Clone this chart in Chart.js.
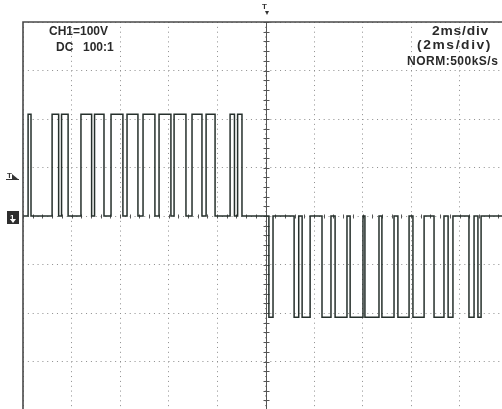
<!DOCTYPE html>
<html>
<head>
<meta charset="utf-8">
<script src="https://cdn.jsdelivr.net/npm/chart.js@4.4.1/dist/chart.umd.min.js"></script>
<style>
  html, body { margin: 0; padding: 0; width: 502px; height: 409px; overflow: hidden; background: #fff; }
  #wrap { position: relative; width: 502px; height: 409px; overflow: hidden; background: #fff; }
  #scope { position: absolute; left: 0; top: 0; }
  .lbl { position: absolute; font-family: "Liberation Sans", Arial, sans-serif; font-size: 12px;
         font-weight: bold; line-height: 12px; color: #2a2a2a; white-space: pre; transform-origin: 0 0; }
  .mk { position: absolute; font-family: "Liberation Sans", Arial, sans-serif; font-weight: bold;
        font-size: 8px; line-height: 8px; color: #333; }
</style>
</head>
<body>
<div id="wrap">
  <canvas id="scope" width="510" height="412"></canvas>
  <div class="lbl" id="chLbl" style="left:49px;top:25px"></div>
  <div class="lbl" id="cplLbl" style="left:56px;top:41px"></div>
  <div class="lbl" id="ratioLbl" style="left:83px;top:41px"></div>
  <div class="lbl" id="tbLbl" style="left:432px;top:25px;letter-spacing:0.7px;transform:scaleX(1.15)"></div>
  <div class="lbl" id="tb2Lbl" style="left:417px;top:39px;letter-spacing:1.4px;transform:scaleX(1.15)"></div>
  <div class="lbl" id="acqLbl" style="left:407px;top:55px;letter-spacing:0.5px"></div>
  <div class="mk" style="left:262px;top:3px">T</div>
  <div class="mk" style="left:7px;top:172px">T</div>
  <div class="mk" style="left:10px;top:214px;color:#fff">1</div>
</div>
<script>
// Scope settings
const timePerDiv = 2;      // ms / div
const voltPerDiv = 100;    // V / div
const timeDivs = 10;
const voltDivs = 8;
const triggerTime = 10;    // ms, trigger position (screen centre)
const triggerLevel = 80;   // V

// Readout texts
const channelText = "CH1=100V";
const couplingText = "DC";
const probeText = "100:1";
const timebaseText = "2ms/div";
const timebase2Text = "(2ms/div)";
const acquireText = "NORM:500kS/s";

// PWM output: positive half-cycle pulses (ms)
const posRise = [0.21, 1.20, 1.59, 2.39, 2.95, 3.63, 4.29, 4.95, 5.61, 6.23, 6.97, 7.55, 8.54, 8.85];
const posFall = [0.33, 1.47, 1.86, 2.83, 3.34, 4.12, 4.74, 5.44, 6.10, 6.72, 7.38, 7.92, 8.72, 9.03];
// negative half-cycle pulses (ms)
const negFall = [10.14, 11.18, 11.51, 12.33, 12.87, 13.49, 14.10, 14.80, 15.46, 16.08, 16.95, 17.53, 18.39, 18.76];
const negRise = [10.31, 11.37, 11.84, 12.70, 13.36, 14.02, 14.68, 15.30, 15.92, 16.54, 17.36, 17.73, 18.60, 18.89];
// pulse levels (V)
const highLevel = 210;
const lowLevel = -209;

document.getElementById('chLbl').textContent = channelText;
document.getElementById('cplLbl').textContent = couplingText;
document.getElementById('ratioLbl').textContent = probeText;
document.getElementById('tbLbl').textContent = timebaseText;
document.getElementById('tb2Lbl').textContent = timebase2Text;
document.getElementById('acqLbl').textContent = acquireText;

// Build the trace as a sequence of square pulses
const trace = [{x: 0, y: 0}];
posRise.forEach((t, i) => {
  trace.push({x: t, y: 0}, {x: t, y: highLevel}, {x: posFall[i], y: highLevel}, {x: posFall[i], y: 0});
});
negFall.forEach((t, i) => {
  trace.push({x: t, y: 0}, {x: t, y: lowLevel}, {x: negRise[i], y: lowLevel}, {x: negRise[i], y: 0});
});
trace.push({x: timeDivs * timePerDiv, y: 0});

const tMax = timeDivs * timePerDiv;
const vMax = voltDivs / 2 * voltPerDiv;

const scopeDecor = {
  id: 'scopeDecor',
  beforeDatasetsDraw(chart) {
    const {ctx, chartArea: a, scales: {x, y}} = chart;
    ctx.save();
    const cx = Math.round(x.getPixelForValue(triggerTime)) + 0.5;
    const cy = Math.round(y.getPixelForValue(0)) + 0.5;
    ctx.strokeStyle = '#555';
    ctx.lineWidth = 1;
    ctx.beginPath();
    // vertical centre line with minor ticks
    ctx.moveTo(cx, a.top);
    ctx.lineTo(cx, a.bottom);
    for (let i = 0; i <= voltDivs * 5; i++) {
      const py = Math.round(y.getPixelForValue(-vMax + i * voltPerDiv / 5)) + 0.5;
      ctx.moveTo(cx - 3, py);
      ctx.lineTo(cx + 3, py);
    }
    // horizontal centre minor ticks
    for (let i = 0; i <= timeDivs * 5; i++) {
      const px = Math.round(x.getPixelForValue(i * timePerDiv / 5)) + 0.5;
      ctx.moveTo(px, cy - 2);
      ctx.lineTo(px, cy + 2);
    }
    ctx.stroke();
    ctx.restore();
  },
  afterDraw(chart) {
    const {ctx, chartArea: a, scales: {x, y}} = chart;
    ctx.save();
    // graticule frame
    ctx.strokeStyle = '#4a4a4a';
    ctx.lineWidth = 1.6;
    ctx.beginPath();
    ctx.moveTo(a.left, a.bottom);
    ctx.lineTo(a.left, a.top);
    ctx.lineTo(a.right, a.top);
    ctx.stroke();

    ctx.fillStyle = '#333';
    // trigger position marker
    const tx = Math.round(x.getPixelForValue(triggerTime));
    ctx.beginPath();
    ctx.moveTo(tx - 1, 11);
    ctx.lineTo(tx + 3, 11);
    ctx.lineTo(tx + 1, 15);
    ctx.closePath();
    ctx.fill();
    // trigger level marker
    const ly = Math.round(y.getPixelForValue(triggerLevel));
    ctx.beginPath();
    ctx.moveTo(12, ly + 2);
    ctx.lineTo(18, ly + 2);
    ctx.lineTo(12, ly - 3);
    ctx.closePath();
    ctx.fill();
    ctx.fillRect(6, ly + 2, 13, 1);
    // channel ground marker
    const gy = Math.round(y.getPixelForValue(0));
    ctx.fillStyle = '#2e2e2e';
    ctx.fillRect(7, gy - 5, 12, 13);
    ctx.fillStyle = '#fff';
    ctx.beginPath();
    ctx.moveTo(10, gy + 3);
    ctx.lineTo(16, gy + 3);
    ctx.lineTo(13, gy + 7);
    ctx.closePath();
    ctx.fill();
    ctx.restore();
  }
};

new Chart(document.getElementById('scope'), {
  type: 'line',
  data: {
    datasets: [{
      data: trace,
      borderColor: '#26302c',
      borderWidth: 1.5,
      pointRadius: 0,
      tension: 0,
      fill: false
    }]
  },
  options: {
    responsive: false,
    animation: false,
    devicePixelRatio: 1,
    layout: { autoPadding: false, padding: { left: 23, top: 22, right: 2, bottom: 2 } },
    plugins: { legend: { display: false }, tooltip: { enabled: false } },
    scales: {
      x: {
        type: 'linear',
        min: 0,
        max: tMax,
        ticks: { display: false, stepSize: timePerDiv },
        grid: { color: '#8c8c8c', lineWidth: 1, drawTicks: false },
        border: { display: false, dash: [1, 3.85] }
      },
      y: {
        type: 'linear',
        min: -vMax,
        max: vMax,
        ticks: { display: false, stepSize: voltPerDiv },
        grid: { color: '#8c8c8c', lineWidth: 1, drawTicks: false },
        border: { display: false, dash: [1, 3.85] }
      }
    }
  },
  plugins: [scopeDecor]
});
</script>
</body>
</html>
